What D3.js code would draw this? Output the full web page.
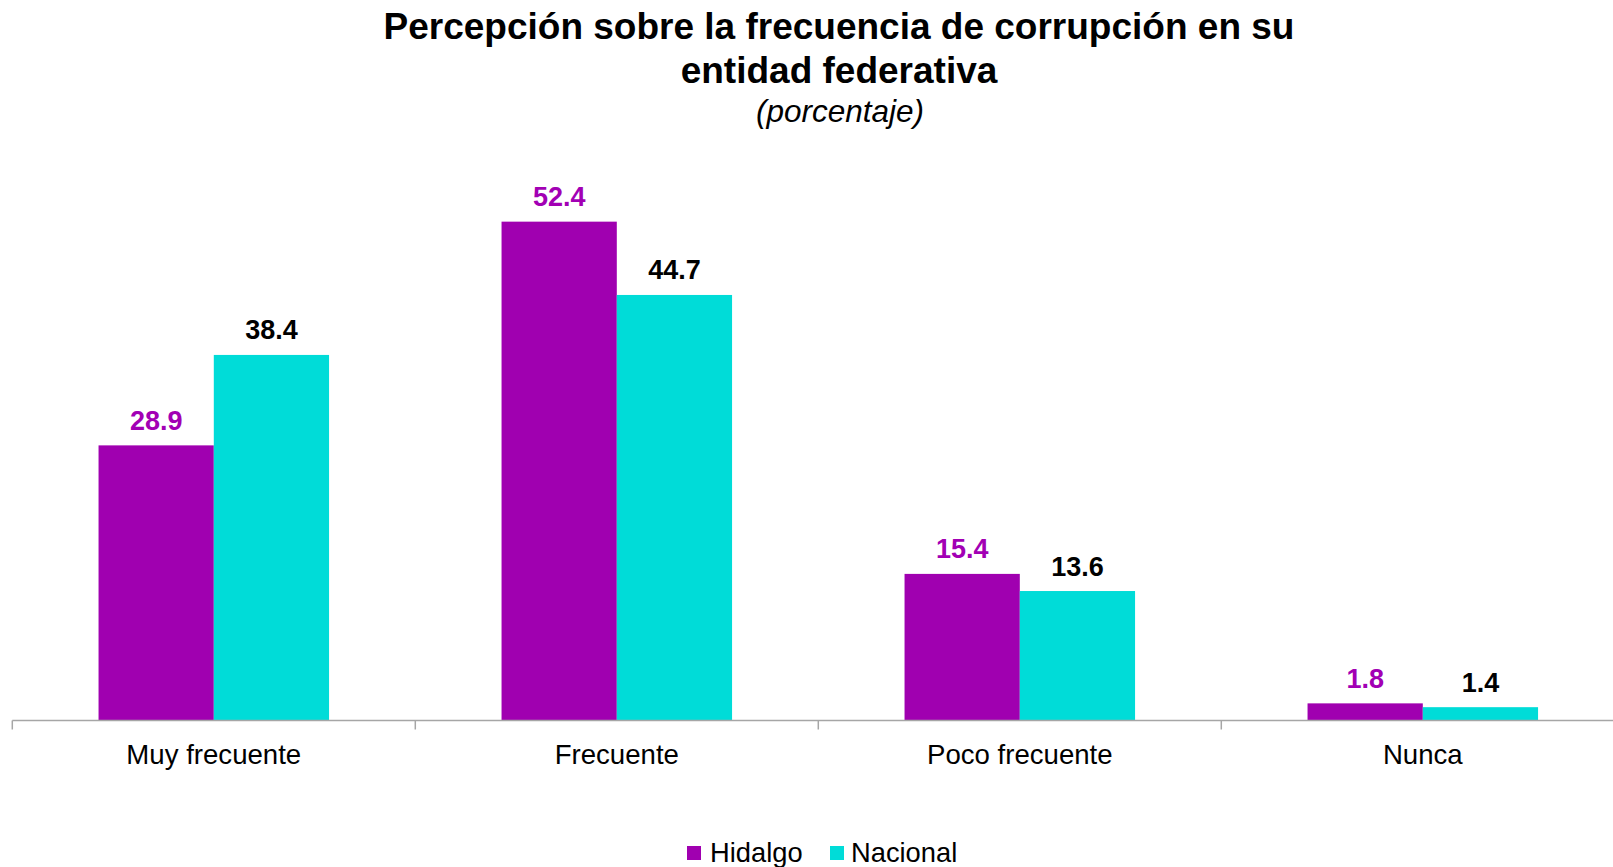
<!DOCTYPE html>
<html>
<head>
<meta charset="utf-8">
<script src="https://cdn.jsdelivr.net/npm/d3@7"></script>
<style>
  html, body { margin: 0; padding: 0; background: #ffffff; overflow: hidden; }
  svg { display: block; font-family: "Liberation Sans", Arial, Helvetica, sans-serif; }
</style>
</head>
<body>
<svg id="chart" width="1613" height="867"></svg>
<script>
// ---- Data ----
const categories = ["Muy frecuente", "Frecuente", "Poco frecuente", "Nunca"];
const seriesNames = ["Hidalgo", "Nacional"];
const hidalgoValues = [28.9, 52.4, 15.4, 1.8];
const nacionalValues = [38.4, 44.7, 13.6, 1.4];
const titleLines = ["Percepción sobre la frecuencia de corrupción en su", "entidad federativa"];
const subtitle = "(porcentaje)";

// ---- Styles ----
const colors = { "Hidalgo": "#A000B0", "Nacional": "#00DCD8" };
const labelColors = { "Hidalgo": "#A200B4", "Nacional": "#000000" };

const rows = categories.map((c, i) => ({
  category: c,
  values: [
    { series: "Hidalgo", value: hidalgoValues[i] },
    { series: "Nacional", value: nacionalValues[i] }
  ]
}));

const svg = d3.select("#chart");
const W = 1613, H = 867;

// Scales
const slotScale = d3.scaleBand().domain(categories).range([12.3, 1624.3]).padding(0);
const x0 = d3.scaleBand().domain(categories).range([12.3, 1624.3])
  .paddingInner(0.428).paddingOuter(0.214);
const x1 = d3.scaleBand().domain(seriesNames).range([0, x0.bandwidth()]).padding(0);
const y = d3.scaleLinear().domain([0, 60]).range([720.5, 720.5 - 60 * 9.52]);

// Title
const title = svg.append("g").attr("text-anchor", "middle");
title.selectAll("text.t").data(titleLines).enter().append("text")
  .attr("class", "t")
  .attr("x", 839)
  .attr("y", (d, i) => 39 + i * 44)
  .attr("font-size", 37)
  .attr("font-weight", "bold")
  .attr("fill", "#000")
  .text(d => d);
title.append("text")
  .attr("x", 840)
  .attr("y", 121.5)
  .attr("font-size", 31.5)
  .attr("font-style", "italic")
  .attr("fill", "#000")
  .text(subtitle);

// Bars
const groups = svg.append("g").selectAll("g").data(rows).enter().append("g")
  .attr("transform", d => `translate(${x0(d.category)},0)`);

groups.selectAll("rect").data(d => d.values).enter().append("rect")
  .attr("x", d => x1(d.series))
  .attr("y", d => y(d.value))
  .attr("width", x1.bandwidth())
  .attr("height", d => y(0) - y(d.value))
  .attr("fill", d => colors[d.series]);

groups.selectAll("text").data(d => d.values).enter().append("text")
  .attr("x", d => x1(d.series) + x1.bandwidth() / 2)
  .attr("y", d => y(d.value) - 15.5)
  .attr("text-anchor", "middle")
  .attr("font-size", 27)
  .attr("font-weight", "bold")
  .attr("fill", d => labelColors[d.series])
  .text(d => d3.format(".1f")(d.value));

// Axis (category boundaries as ticks, Excel style)
const axisG = svg.append("g").attr("transform", `translate(0,${y(0)})`);
axisG.append("line")
  .attr("x1", slotScale.range()[0]).attr("x2", W)
  .attr("y1", 0).attr("y2", 0)
  .attr("stroke", "#A6A6A6").attr("stroke-width", 1.5);
const tickPos = categories.map(c => slotScale(c)).concat([slotScale.range()[1]]);
axisG.selectAll("line.tick").data(tickPos).enter().append("line")
  .attr("class", "tick")
  .attr("x1", d => d).attr("x2", d => d)
  .attr("y1", 0).attr("y2", 9)
  .attr("stroke", "#A6A6A6").attr("stroke-width", 1.5);
axisG.selectAll("text").data(categories).enter().append("text")
  .attr("x", d => slotScale(d) + slotScale.bandwidth() / 2)
  .attr("y", 764 - y(0))
  .attr("text-anchor", "middle")
  .attr("font-size", 27.6)
  .attr("fill", "#000")
  .text(d => d);

// Legend
const legendItems = [
  { name: "Hidalgo", sx: 687, tx: 710 },
  { name: "Nacional", sx: 830, tx: 851 }
];
const legend = svg.append("g");
legend.selectAll("rect").data(legendItems).enter().append("rect")
  .attr("x", d => d.sx).attr("y", 846)
  .attr("width", 14).attr("height", 14)
  .attr("fill", d => colors[d.name]);
legend.selectAll("text").data(legendItems).enter().append("text")
  .attr("x", d => d.tx).attr("y", 861.5)
  .attr("font-size", 27.3)
  .attr("fill", "#000")
  .text(d => d.name);
</script>
</body>
</html>
